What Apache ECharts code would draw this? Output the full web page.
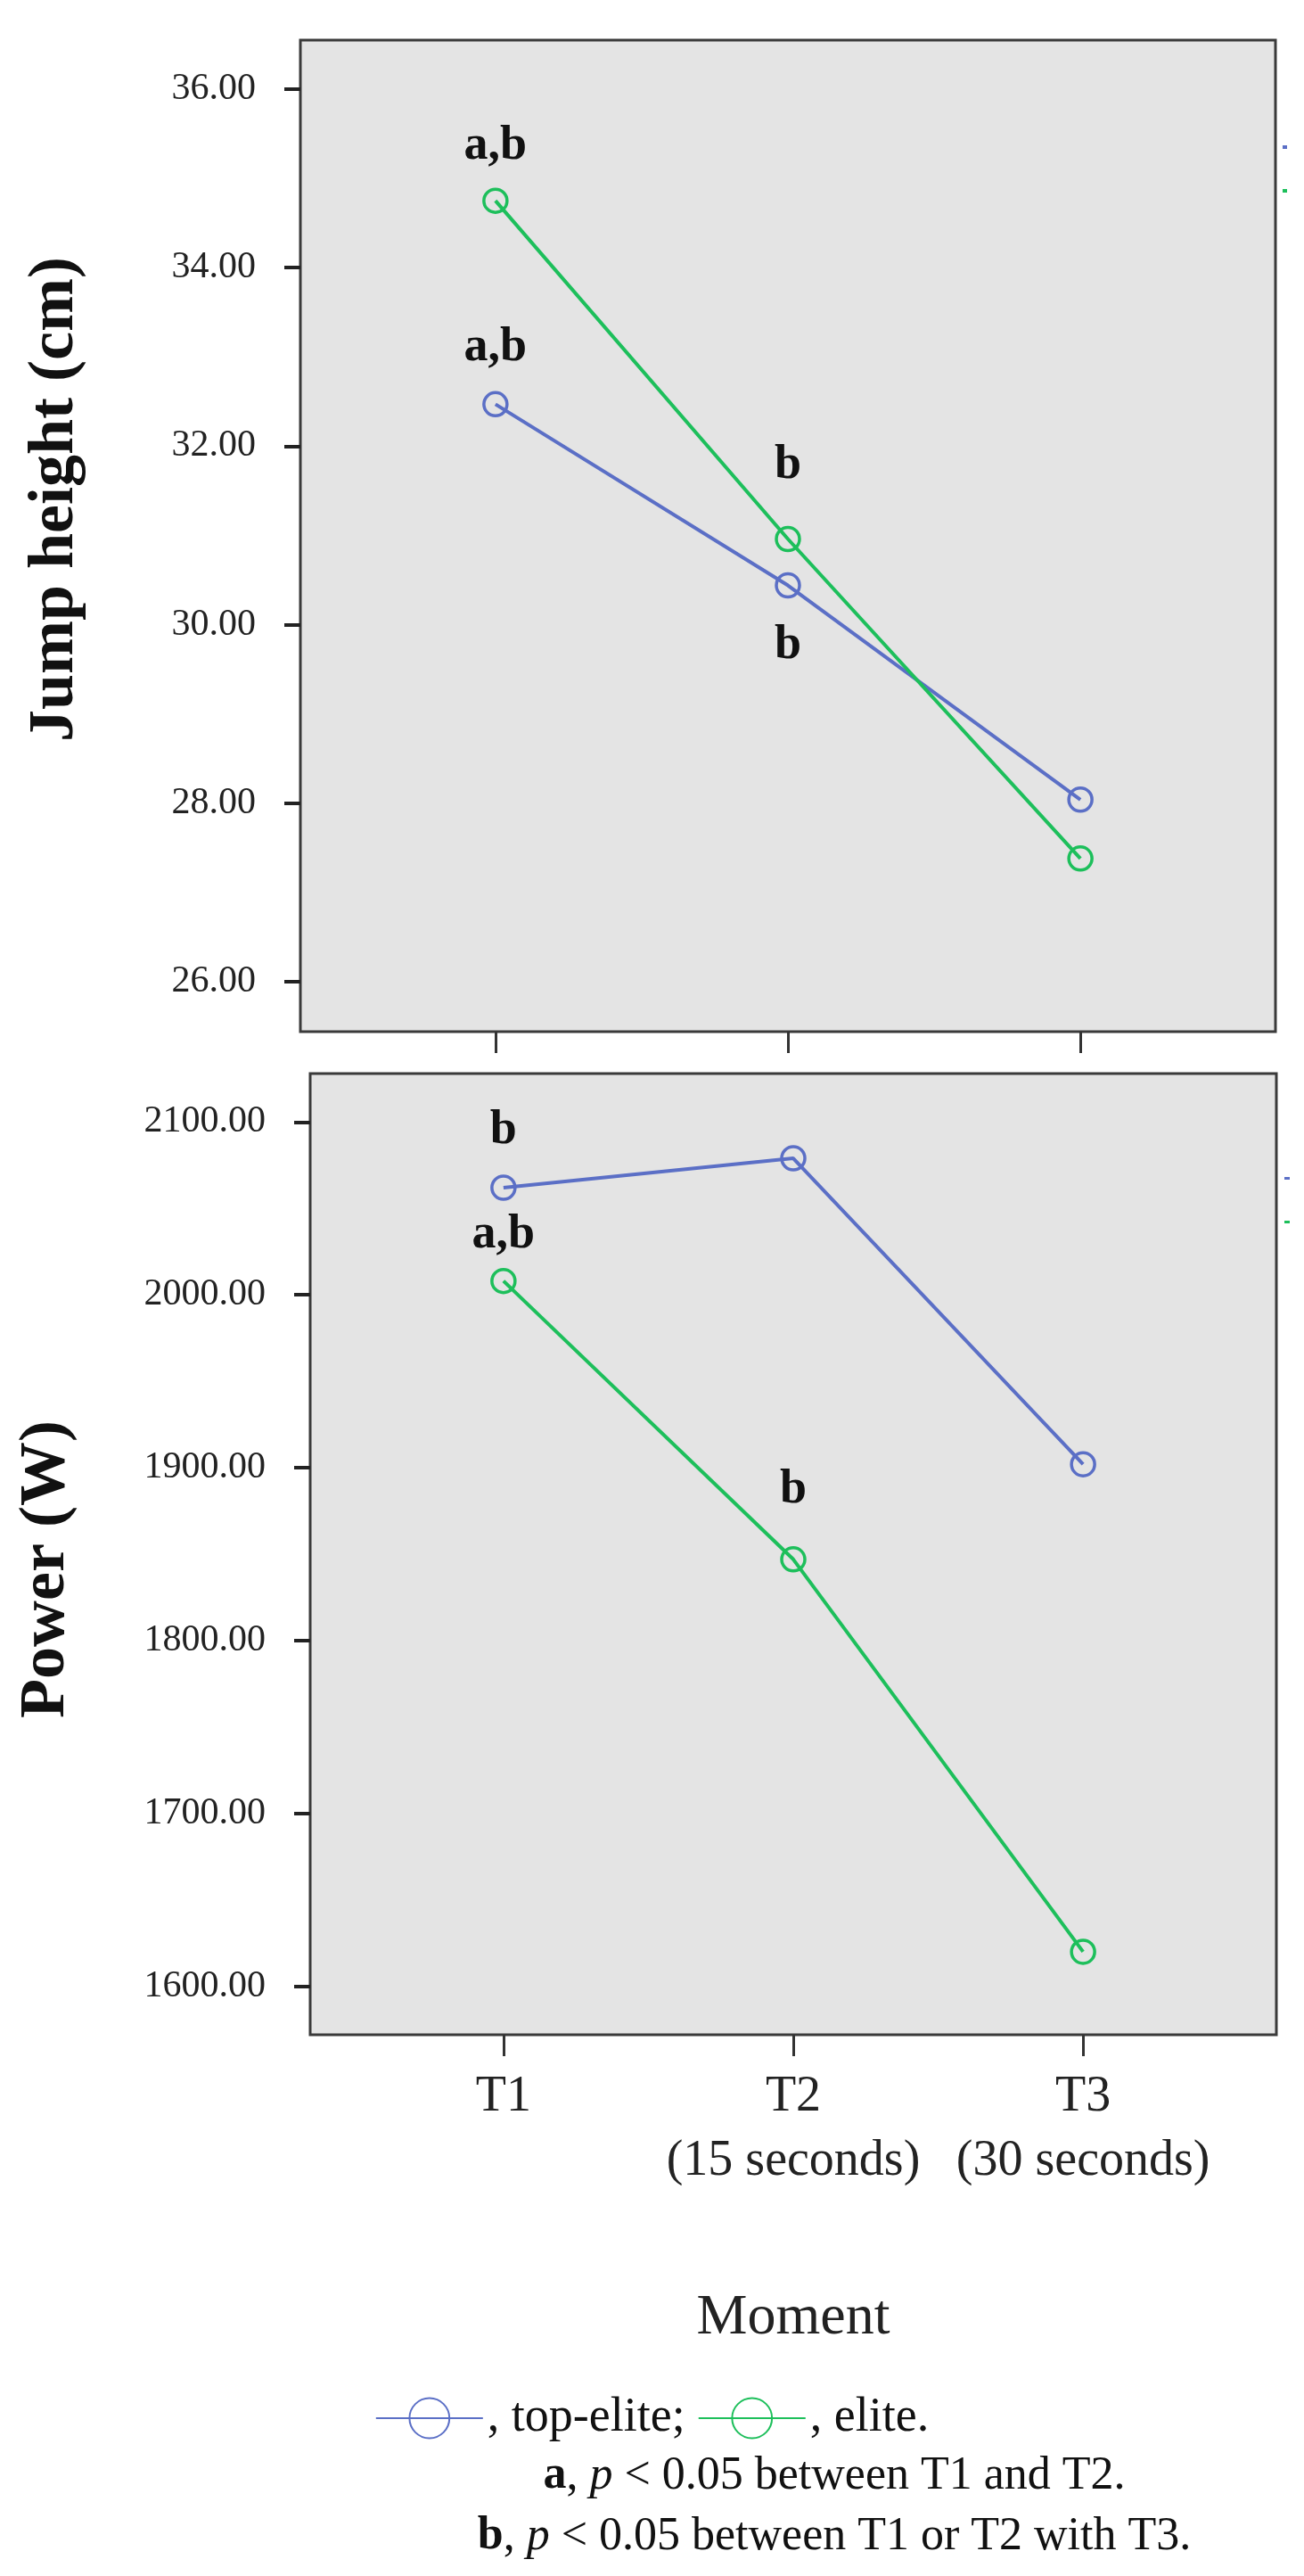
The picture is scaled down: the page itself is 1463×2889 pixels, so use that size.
<!DOCTYPE html>
<html>
<head>
<meta charset="utf-8">
<script src="https://cdn.jsdelivr.net/npm/echarts@6/dist/echarts.min.js"></script>
<style>
  html, body { margin: 0; padding: 0; background: #fff; }
  #chart { width: 1463px; height: 2889px; }
</style>
</head>
<body>
<div id="chart"></div>
<script>
// categories (x positions 1..3)
const moments = ['T1', 'T2\n(15 seconds)', 'T3\n(30 seconds)'];
const momentPos = [1, 2, 3];

// jump height (cm)
const jumpTopElite = [32.47, 30.44, 28.04];
const jumpElite = [34.75, 30.96, 27.38];
const jumpTicks = [26, 28, 30, 32, 34, 36];

// power (W)
const powerTopElite = [2062, 2079, 1902];
const powerElite = [2008, 1847, 1620];
const powerTicks = [1600, 1700, 1800, 1900, 2000, 2100];

// significance marks per point
const jumpTopEliteMarks = ['a,b', 'b', ''];
const jumpEliteMarks = ['a,b', 'b', ''];
const powerTopEliteMarks = ['b', '', ''];
const powerEliteMarks = ['a,b', 'b', ''];

const BLUE = '#5b6fc6';
const GREEN = '#1dbf5b';
const SERIF = '"Liberation Serif", "DejaVu Serif", serif';

let chart = echarts.init(document.getElementById('chart'));

function pts(vals) {
  return vals.map((v, i) => [momentPos[i], v]);
}

// label offsets: negative = above the point
function lineSeries(name, color, vals, marks, offsets, gridIdx) {
  return {
    name: name,
    type: 'line',
    xAxisIndex: gridIdx,
    yAxisIndex: gridIdx,
    data: pts(vals),
    symbol: 'circle',
    symbolSize: 26,
    showAllSymbol: true,
    lineStyle: { color: color, width: 4 },
    itemStyle: { color: 'rgba(0,0,0,0)', borderColor: color, borderWidth: 3.5 },
    label: {
      show: true,
      position: 'inside',
      formatter: p => marks[p.dataIndex],
      color: '#111',
      fontFamily: SERIF,
      fontWeight: 'bold',
      fontSize: 54
    },
    labelLayout: p => ({ dy: offsets[p.dataIndex] }),
    z: color === GREEN ? 3 : 2
  };
}

function yAxisCfg(gridIdx, min, max, ticks) {
  return {
    type: 'value',
    gridIndex: gridIdx,
    min: min,
    max: max,
    splitLine: { show: false },
    axisLine: { show: false },
    axisTick: { show: true, length: 18, customValues: ticks, lineStyle: { color: '#222', width: 4 } },
    axisLabel: {
      customValues: ticks,
      formatter: v => v.toFixed(2),
      color: '#222',
      fontFamily: SERIF,
      fontSize: 42,
      margin: 50
    }
  };
}

function xAxisCfg(gridIdx, showLabels) {
  return {
    type: 'value',
    gridIndex: gridIdx,
    min: 0.333,
    max: 3.667,
    splitLine: { show: false },
    axisLine: { show: false },
    axisTick: { show: true, length: 24, customValues: momentPos, lineStyle: { color: '#333', width: 3 } },
    axisLabel: {
      show: showLabels,
      customValues: momentPos,
      formatter: v => moments[v - 1],
      color: '#222',
      fontFamily: SERIF,
      fontSize: 56,
      lineHeight: 72,
      margin: 34
    }
  };
}

let option = {
  backgroundColor: '#fff',
  animation: false,
  grid: [
    { left: 337, width: 1094, top: 45, height: 1112, show: true, backgroundColor: '#e4e4e4', borderColor: '#3a3a3a', borderWidth: 3 },
    { left: 348, width: 1084, top: 1204, height: 1078, show: true, backgroundColor: '#e4e4e4', borderColor: '#3a3a3a', borderWidth: 3 }
  ],
  xAxis: [xAxisCfg(0, false), xAxisCfg(1, true)],
  yAxis: [yAxisCfg(0, 25.44, 36.55, jumpTicks), yAxisCfg(1, 1572, 2128, powerTicks)],
  legend: {
    top: 2680,
    left: 'center',
    itemWidth: 120,
    itemHeight: 56,
    itemGap: 14,
    data: ['top-elite', 'elite'],
    formatter: n => n === 'top-elite' ? ', top-elite;' : ', elite.',
    textStyle: { fontFamily: SERIF, fontSize: 54, color: '#111' }
  },
  series: [
    lineSeries('top-elite', BLUE, jumpTopElite, jumpTopEliteMarks, [-63, 67, 0], 0),
    lineSeries('elite', GREEN, jumpElite, jumpEliteMarks, [-61, -82, 0], 0),
    lineSeries('top-elite', BLUE, powerTopElite, powerTopEliteMarks, [-64, 0, 0], 1),
    lineSeries('elite', GREEN, powerElite, powerEliteMarks, [-52, -78, 0], 1)
  ],
  graphic: [
    {
      type: 'text', x: 62, y: 560, rotation: Math.PI / 2,
      style: { text: 'Jump height (cm)', fontFamily: SERIF, fontWeight: 'bold', fontSize: 72, fill: '#111', align: 'center', verticalAlign: 'middle' }
    },
    {
      type: 'text', x: 52, y: 1760, rotation: Math.PI / 2,
      style: { text: 'Power (W)', fontFamily: SERIF, fontWeight: 'bold', fontSize: 72, fill: '#111', align: 'center', verticalAlign: 'middle' }
    },
    {
      type: 'text', x: 890, y: 2600,
      style: { text: 'Moment', fontFamily: SERIF, fontSize: 64, fill: '#222', align: 'center', verticalAlign: 'middle' }
    },
    {
      type: 'text', x: 936, y: 2777,
      style: {
        text: '{b|a}, {i|p} < 0.05 between T1 and T2.',
        fontFamily: SERIF, fontSize: 52, fill: '#111', align: 'center', verticalAlign: 'middle',
        rich: { b: { fontWeight: 'bold', fontFamily: SERIF, fontSize: 52 }, i: { fontStyle: 'italic', fontFamily: SERIF, fontSize: 52 } }
      }
    },
    {
      type: 'text', x: 936, y: 2845,
      style: {
        text: '{b|b}, {i|p} < 0.05 between T1 or T2 with T3.',
        fontFamily: SERIF, fontSize: 52, fill: '#111', align: 'center', verticalAlign: 'middle',
        rich: { b: { fontWeight: 'bold', fontFamily: SERIF, fontSize: 52 }, i: { fontStyle: 'italic', fontFamily: SERIF, fontSize: 52 } }
      }
    },
    { type: 'rect', shape: { x: 1439, y: 163, width: 5, height: 4 }, style: { fill: BLUE } },
    { type: 'rect', shape: { x: 1439, y: 212, width: 5, height: 4 }, style: { fill: GREEN } },
    { type: 'rect', shape: { x: 1441, y: 1320, width: 6, height: 3 }, style: { fill: BLUE } },
    { type: 'rect', shape: { x: 1441, y: 1369, width: 6, height: 3 }, style: { fill: GREEN } }
  ]
};

chart.setOption(option);
</script>
</body>
</html>
